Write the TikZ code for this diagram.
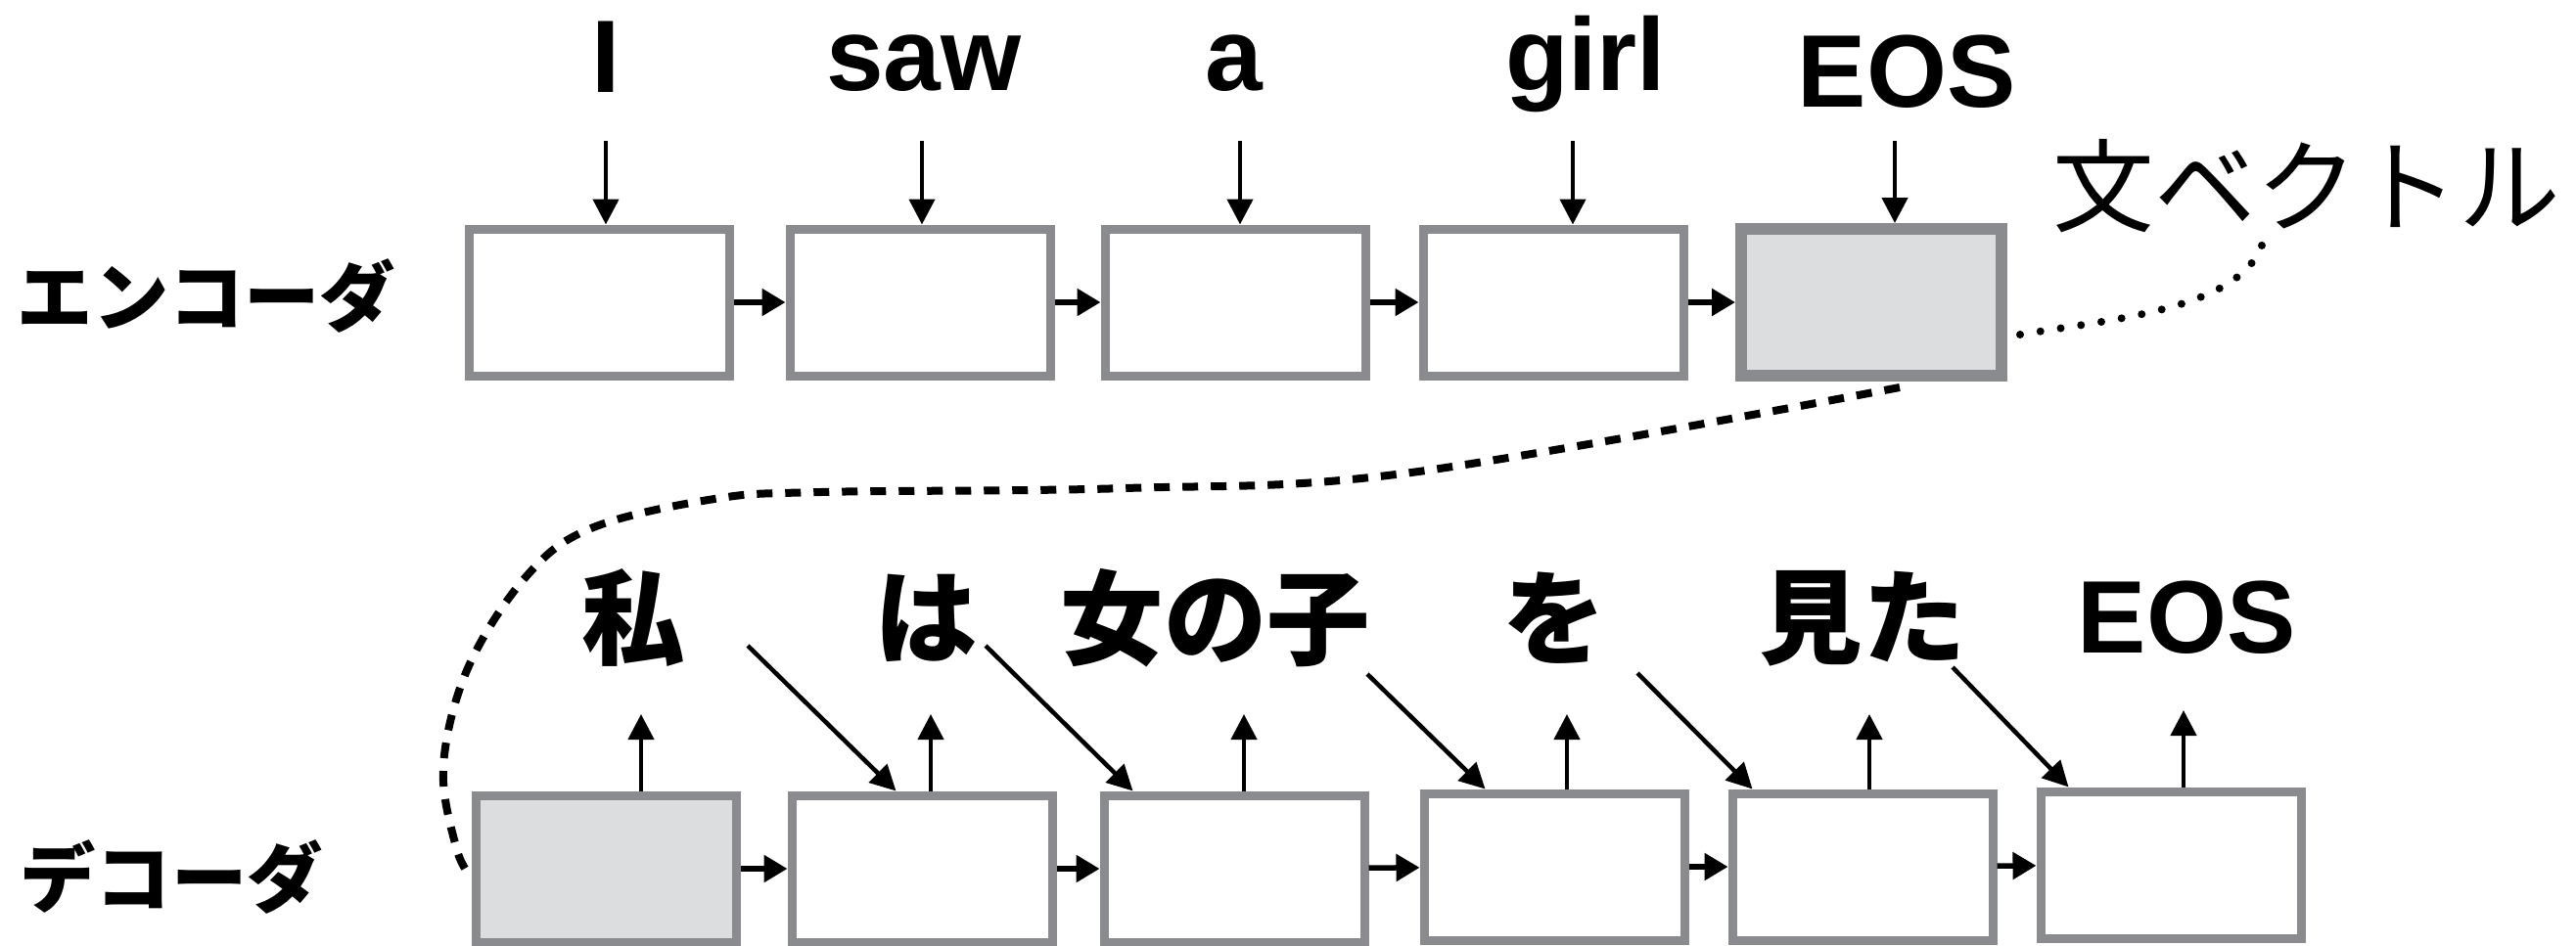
\documentclass[tikz,border=0pt]{standalone}
\usepackage{fontspec}
\newfontfamily\enfont{Liberation Sans}
\newfontfamily\jpfont{Noto Sans CJK JP}
\usetikzlibrary{arrows.meta}
\usetikzlibrary{calc,positioning}

\definecolor{cellgray}{RGB}{137,139,143}
\definecolor{cellfill}{RGB}{220,221,223}

\tikzset{
	cell/.style={draw=cellgray, line width=0.9mm, minimum width=2.66cm, minimum height=1.5cm, inner sep=0},
	lastcell/.style={cell, fill=cellfill, line width=1.2mm},
	word/.style={font=\enfont\bfseries\fontsize{30}{30}\selectfont, inner sep=0},
	jword/.style={font=\jpfont\bfseries\fontsize{30}{30}\selectfont, inner sep=0},
	side/.style={font=\jpfont\bfseries\fontsize{22}{22}\selectfont, inner sep=0},
	thinarrow/.style={->, line width=0.45mm},
	hop/.style={->, line width=0.55mm, >={Triangle[length=2.4mm,width=2.7mm]}}
}

\begin{document}
\begin{tikzpicture}[>={Triangle[length=2.6mm,width=2.6mm]}]
	\useasboundingbox (0,0) rectangle (26.32,9.66);
	
	% Encoder
	\node[side] (enc) at (2.11,6.64) {エンコーダ};
	\node[cell] (e1) at (6.12,6.57) {};
	\node[cell] (e2) at (9.40,6.57) {};
	\node[cell] (e3) at (12.62,6.57) {};
	\node[cell] (e4) at (15.87,6.57) {};
	\node[lastcell] (e5) at (19.12,6.57) {};
	\draw[hop] (e1) -- (e2);
	\draw[hop] (e2) -- (e3);
	\draw[hop] (e3) -- (e4);
	\draw[hop] (e4) -- (e5);
	
	% Input words
	\node[word, anchor=base] (w1) at (6.19,8.72) {I};
	\node[word, anchor=base] (w2) at (9.44,8.73) {saw};
	\node[word, anchor=base] (w3) at (12.61,8.73) {a};
	\node[word, anchor=base] (w4) at (16.20,8.73) {girl};
	\node[word, anchor=base] (w5) at (19.48,8.56) {EOS};
	\coordinate (i1) at (6.19,8.22);
	\coordinate (i2) at (9.42,8.22);
	\coordinate (i3) at (12.67,8.22);
	\coordinate (i4) at (16.07,8.22);
	\coordinate (i5) at (19.36,8.22);
	\foreach \k in {1,...,5}
		\draw[thinarrow] (i\k) -- (i\k |- e\k.north);
	
	% Sentence vector
	\node[font=\jpfont\fontsize{29.5}{29.5}\selectfont, inner sep=0] (vec) at (23.57,7.76) {文ベクトル};
	\coordinate (vtip) at (23.12,7.18);
	\draw[line width=0.8mm, line cap=round, dash pattern=on 0pt off 2.1mm]
		([shift={(1.3mm,-3.3mm)}]e5.east) .. controls (21.6,6.4) and (22.9,6.5) .. (vtip);
	
	% Decoder
	\node[side] (dec) at (1.75,0.70) {デコーダ};
	\node[cell, fill=cellfill] (d1) at (6.19,0.78) {};
	\node[cell] (d2) at (9.42,0.78) {};
	\node[cell] (d3) at (12.61,0.78) {};
	\node[cell] (d4) at (15.88,0.80) {};
	\node[cell] (d5) at (19.03,0.80) {};
	\node[cell] (d6) at (22.18,0.82) {};
	\draw[hop] (d1) -- (d2);
	\draw[hop] (d2) -- (d3);
	\draw[hop] (d3) -- (d4);
	\draw[hop] (d4) -- (d5);
	\draw[hop] (d5) -- (d6);
	
	% Hand-over from the encoder
	\coordinate (cs) at ([xshift=2.9mm,yshift=-0.6mm]e5.south);
	\coordinate (ce) at ([yshift=-0.9mm]d1.west);
	\draw[line width=0.8mm, dash pattern=on 1.6mm off 1.3mm] plot[smooth, tension=0.6] coordinates
		{(cs) (14.42,4.83) (11.5,4.67) (8.39,4.63) (7.30,4.56) (6.04,4.26) (5.37,3.76) (4.78,2.83) (4.53,1.83) (4.66,1.00) (ce)};
	
	% Output words
	\node[jword] (o1) at (6.47,3.34) {私};
	\node[jword] (o2) at (9.46,3.34) {は};
	\node[jword] (o3) at (12.42,3.34) {女の子};
	\node[jword] (o4) at (15.88,3.34) {を};
	\node[jword] (o5) at (19.03,3.34) {見た};
	\node[word] (o6) at (22.34,3.35) {EOS};
	\coordinate (u1) at (6.55,2.36);
	\coordinate (u2) at (9.51,2.36);
	\coordinate (u3) at (12.71,2.36);
	\coordinate (u4) at (16.01,2.36);
	\coordinate (u5) at (19.10,2.36);
	\coordinate (u6) at (22.31,2.40);
	\foreach \k in {1,...,6}
		\draw[thinarrow] (u\k |- d\k.north) -- (u\k);
	
	% Previous word fed back in
	\coordinate (f1) at (7.64,3.06);
	\coordinate (f2) at (10.07,3.06);
	\coordinate (f3) at (13.97,2.77);
	\coordinate (f4) at (16.73,2.78);
	\coordinate (f5) at (19.95,2.84);
	\draw[thinarrow] (f1) -- ([xshift=11.1mm]d2.north west);
	\draw[thinarrow] (f2) -- ([xshift=3.4mm]d3.north west);
	\draw[thinarrow] (f3) -- ([xshift=6.7mm]d4.north west);
	\draw[thinarrow] (f4) -- ([xshift=2.5mm]d5.north west);
	\draw[thinarrow] (f5) -- ([xshift=3.3mm]d6.north west);
\end{tikzpicture}
\end{document}
